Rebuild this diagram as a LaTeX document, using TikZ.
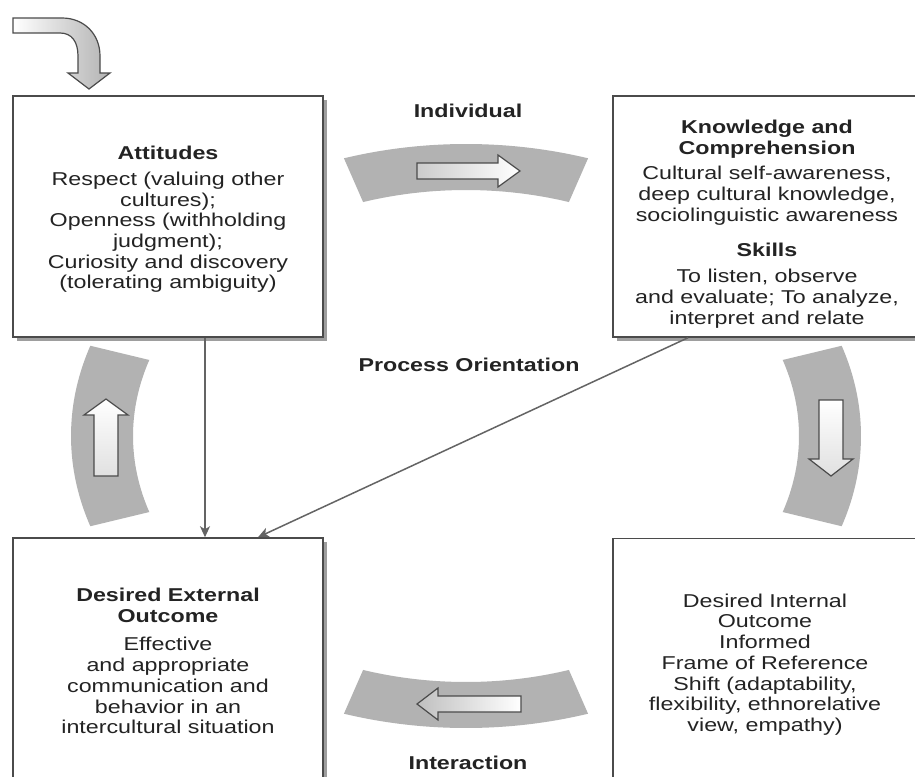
\documentclass[tikz,border=0pt]{standalone}
\usepackage{fontspec}
\setmainfont[FakeStretch=1.25]{Liberation Sans}
\usetikzlibrary{arrows.meta,shadows}
\definecolor{txt}{RGB}{35,35,35}
\definecolor{band}{RGB}{178,178,178}
\definecolor{edge}{RGB}{75,75,75}
\definecolor{conncol}{RGB}{100,100,100}
\tikzset{
  panel/.style={draw=edge, line width=1.5pt, fill=white, inner sep=0pt,
    drop shadow={shadow xshift=4pt, shadow yshift=-4pt, fill=black!38, opacity=1}},
  btxt/.style={text=txt, align=center, inner sep=0pt, font=\fontsize{18.6}{20.7}\selectfont},
  lbl/.style={text=txt, inner sep=0pt, font=\fontsize{18.6}{20.7}\selectfont\bfseries},
  blockarrow/.style={draw=edge, line width=1.2pt, line join=miter},
  conn/.style={draw=conncol, line width=1.5pt, -{Stealth[length=11pt,width=10pt,inset=3pt]}},
  bandfill/.style={fill=band}
}
\begin{document}
\begin{tikzpicture}[x=1pt,y=-1pt]
\useasboundingbox (0,0) rectangle (915,776);
\fill[white] (0,0) rectangle (915,776);
\clip (0,0) rectangle (915,776);

% ring segments
\fill[bandfill] plot[domain=72:108,samples=40] ({466+395*cos(\x)},{436-292*sin(\x)})
  -- plot[domain=108:72,samples=40] ({466+333*cos(\x)},{436-246*sin(\x)}) -- cycle;
\fill[bandfill] plot[domain=252:288,samples=40] ({466+395*cos(\x)},{436-292*sin(\x)})
  -- plot[domain=288:252,samples=40] ({466+333*cos(\x)},{436-246*sin(\x)}) -- cycle;
\fill[bandfill] plot[domain=162:198,samples=40] ({466+395*cos(\x)},{436-292*sin(\x)})
  -- plot[domain=198:162,samples=40] ({466+333*cos(\x)},{436-246*sin(\x)}) -- cycle;
\fill[bandfill] plot[domain=-18:18,samples=40] ({466+395*cos(\x)},{436-292*sin(\x)})
  -- plot[domain=18:-18,samples=40] ({466+333*cos(\x)},{436-246*sin(\x)}) -- cycle;

% block arrows inside the bands
\draw[blockarrow, left color=black!20, right color=white]
  (417,163) -- (498,163) -- (498,155) -- (520,171) -- (498,187) -- (498,179) -- (417,179) -- cycle;
\draw[blockarrow, left color=black!25, right color=white]
  (521,696) -- (438,696) -- (438,688) -- (417,704) -- (438,720) -- (438,712) -- (521,712) -- cycle;
\draw[blockarrow, top color=white, bottom color=black!12]
  (94,476) -- (94,415) -- (84,415) -- (106,399) -- (128,415) -- (118,415) -- (118,476) -- cycle;
\draw[blockarrow, top color=white, bottom color=black!12]
  (819,400) -- (819,459) -- (809,459) -- (831,476) -- (853,459) -- (843,459) -- (843,400) -- cycle;

% entry arrow at top left
\draw[blockarrow, left color=white, right color=black!30]
  (13,18) -- (62,18) .. controls (84,18) and (100,34) .. (100,56) -- (100,73) -- (110,73)
  -- (89,89) -- (68,73) -- (78,73) -- (78,56) .. controls (78,42) and (72,33) .. (60,33)
  -- (13,33) -- cycle;

% boxes
\node[panel, minimum width=310pt, minimum height=241pt] (tl) at (168,216.5) {};
\node[panel, minimum width=322pt, minimum height=241pt] (tr) at (774,216.5) {};
\node[panel, minimum width=310pt, minimum height=262pt] (bl) at (168,669) {};
\node[panel, minimum width=322pt, minimum height=262pt] (br) at (774,669.5) {};

% texts
\node[btxt] (tlt) at (168,219.5) {\textbf{Attitudes}\\[5pt]
  Respect (valuing other\\ cultures);\\ Openness (withholding\\ judgment);\\
  Curiosity and discovery\\ (tolerating ambiguity)};
\node[btxt] (trt) at (767,224) {\textbf{Knowledge and}\\ \textbf{Comprehension}\\[5pt]
  Cultural self-awareness,\\ deep cultural knowledge,\\ sociolinguistic awareness\\[14pt]
  \textbf{Skills}\\[6pt] To listen, observe\\ and evaluate; To analyze,\\ interpret and relate};
\node[btxt] (blt) at (168,661) {\textbf{Desired External}\\ \textbf{Outcome}\\[8pt]
  Effective\\ and appropriate\\ communication and\\ behavior in an\\ intercultural situation};
\node[btxt] (brt) at (765,664.5) {Desired Internal\\ Outcome\\ Informed\\ Frame of Reference\\
  Shift (adaptability,\\ flexibility, ethnorelative\\ view, empathy)};

% labels
\node[lbl] (ind) at (468,111) {Individual};
\node[lbl] (proc) at (469,365) {Process Orientation};
\node[lbl] (inter) at (468,763) {Interaction};

% connectors
\coordinate (ax) at (205,0);
\coordinate (bx) at (688,0);
\coordinate (cx) at (258,0);
\draw[conn] (tl.south -| ax) -- (bl.north -| ax);
\draw[conn] (tr.south -| bx) -- (bl.north -| cx);
\end{tikzpicture}
\end{document}
